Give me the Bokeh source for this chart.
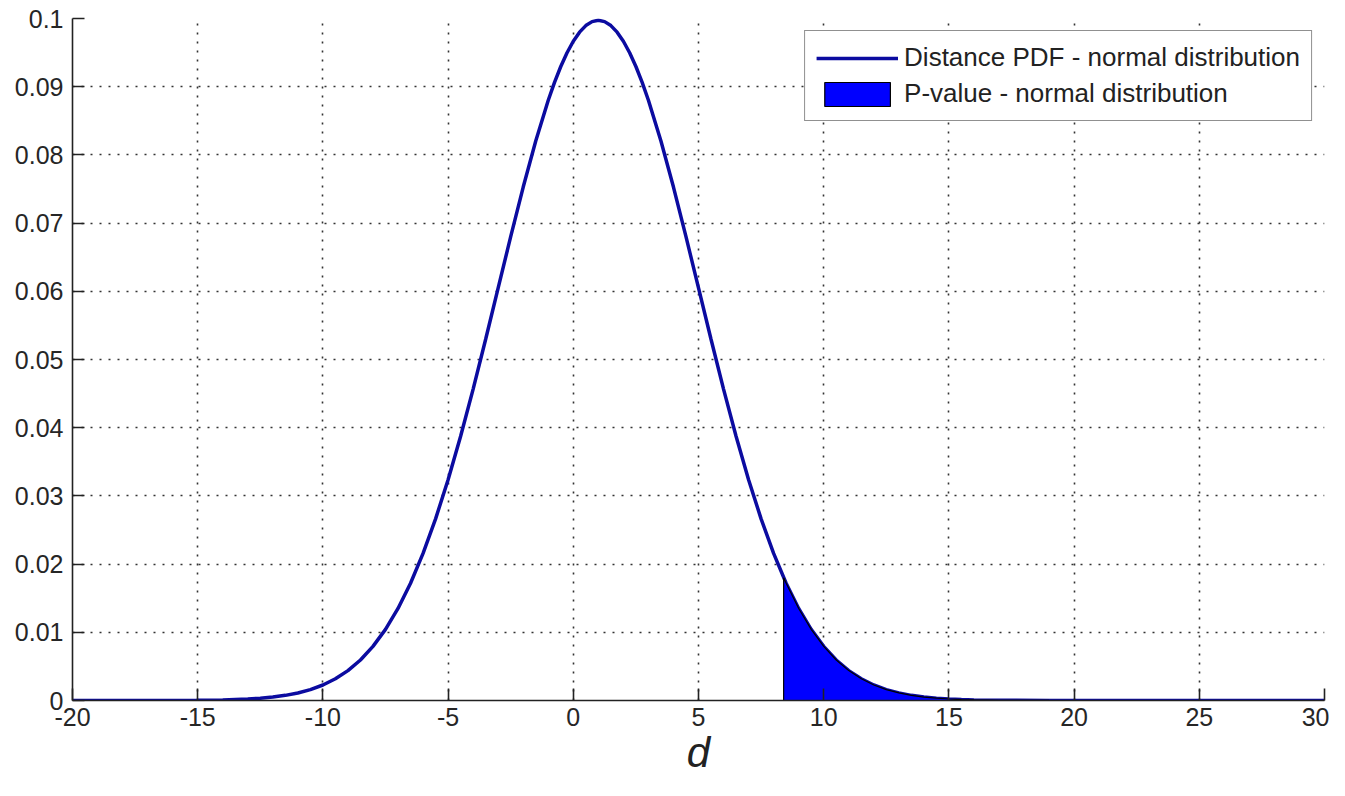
from bokeh.plotting import figure
from bokeh.models import (Range1d, FixedTicker, NumeralTickFormatter, Legend, LegendItem)
from bokeh.embed import file_html
from bokeh.resources import INLINE

# ---- data ----
d_values = [-20, -17, -15, -14, -13, -12.5, -12, -11.5, -11, -10.5, -10, -9.5, -9, -8.5,
            -8, -7.5, -7, -6.5, -6, -5.5, -5, -4.5, -4, -3.5, -3, -2.5, -2, -1.5, -1,
            -0.75, -0.5, -0.25, 0, 0.25, 0.5, 0.75, 1, 1.25, 1.5, 1.75, 2, 2.25, 2.5, 2.75,
            3, 3.5, 4, 4.5, 5, 5.5, 6, 6.5, 7, 7.5, 8, 8.5, 9,
            9.5, 10, 10.5, 11, 11.5, 12, 12.5, 13, 13.5, 14, 14.5, 15, 15.5, 16, 17, 19,
            20, 25, 30]
pdf_values = [0.0, 0.000004, 0.0000335, 0.000088, 0.000218, 0.000335, 0.000507, 0.000756,
              0.001108, 0.001599, 0.002273, 0.003181, 0.004382, 0.005943, 0.007935, 0.010430,
              0.013498, 0.017197, 0.021569, 0.026635, 0.032380, 0.038753, 0.045662, 0.052970,
              0.060493, 0.068014, 0.075284, 0.082040, 0.088017,
              0.090633, 0.092964, 0.094983, 0.096667, 0.097998, 0.098960, 0.099541,
              0.099736, 0.099541, 0.098960, 0.097998, 0.096667, 0.094983, 0.092964, 0.090633,
              0.088017, 0.082040, 0.075284, 0.068014,
              0.060493, 0.052970, 0.045662, 0.038753, 0.032380, 0.026635, 0.021569, 0.017197,
              0.013498, 0.010430, 0.007935, 0.005943, 0.004382, 0.003181, 0.002273, 0.001599,
              0.001108, 0.000756, 0.000507, 0.000335, 0.000218, 0.000140, 0.000088, 0.0000335,
              0.000004, 0.0, 0.0, 0.0]
p_cut_d = 8.4
p_cut_density = 0.0180

x_ticks = [-20, -15, -10, -5, 0, 5, 10, 15, 20, 25, 30]
y_ticks = [0, 0.01, 0.02, 0.03, 0.04, 0.05, 0.06, 0.07, 0.08, 0.09, 0.1]
x_tick_labels = ["-20", "-15", "-10", "-5", "0", "5", "10", "15", "20", "25", "30"]
x_label = "d"
series_names = ["Distance PDF - normal distribution", "P-value - normal distribution"]

# ---- figure ----
FONT = "Liberation Sans"
p = figure(width=1329, height=780, output_backend="svg", toolbar_location=None,
           x_range=Range1d(-20, 30), y_range=Range1d(0, 0.1),
           min_border_left=72, min_border_right=5, min_border_top=18, min_border_bottom=80)
p.outline_line_color = None
p.background_fill_color = "white"
p.border_fill_color = "white"

line_r = p.line(d_values, pdf_values, line_color="#0b0ba0", line_width=3.5)

tail_x = [p_cut_d, p_cut_d] + [x for x in d_values if x > p_cut_d] + [d_values[-1]]
tail_y = [0, p_cut_density] + [y for x, y in zip(d_values, pdf_values) if x > p_cut_d] + [0]
patch_r = p.patch(tail_x, tail_y, fill_color="#0000ff", line_color="black", line_width=1.2)

# axes
for ax in (p.xaxis[0], p.yaxis[0]):
    ax.axis_line_color = "#222222"
    ax.axis_line_width = 1.6
    ax.major_tick_line_color = "#222222"
    ax.major_tick_line_width = 1.6
    ax.major_tick_in = 12
    ax.major_tick_out = 0
    ax.minor_tick_line_color = None
    ax.major_label_text_font = FONT
    ax.major_label_text_font_size = "25px"
    ax.major_label_text_color = "#262626"
    ax.major_label_standoff = 9
p.xaxis.major_label_standoff = 7

p.xaxis.ticker = FixedTicker(ticks=x_ticks)
p.xaxis.major_label_overrides = {t: l for t, l in zip(x_ticks, x_tick_labels)}
p.yaxis.ticker = FixedTicker(ticks=y_ticks)
p.yaxis.formatter = NumeralTickFormatter(format="0.[00]")

p.xaxis.axis_label = x_label
p.xaxis.axis_label_text_font = FONT
p.xaxis.axis_label_text_font_style = "italic"
p.xaxis.axis_label_text_font_size = "42px"
p.xaxis.axis_label_text_color = "#222222"
p.xaxis.axis_label_standoff = 0

# grid
p.xgrid.ticker = FixedTicker(ticks=x_ticks)
p.ygrid.ticker = FixedTicker(ticks=y_ticks)
for g in (p.xgrid[0], p.ygrid[0]):
    g.grid_line_color = "#333333"
    g.grid_line_width = 1.6
    g.grid_line_dash = "2 7"

# legend
legend = Legend(items=[LegendItem(label=series_names[0], renderers=[line_r]),
                       LegendItem(label=series_names[1], renderers=[patch_r])],
                location="top_right")
legend.margin = 12
legend.padding = 11
legend.spacing = 5
legend.glyph_width = 82
legend.glyph_height = 30
legend.label_standoff = 6
legend.label_text_font = FONT
legend.label_text_font_size = "26px"
legend.label_text_color = "#222222"
legend.border_line_color = "#222222"
legend.border_line_width = 1.6
legend.background_fill_color = "white"
legend.background_fill_alpha = 1.0
p.add_layout(legend)

open("out.html", "w").write(file_html(p, INLINE))
